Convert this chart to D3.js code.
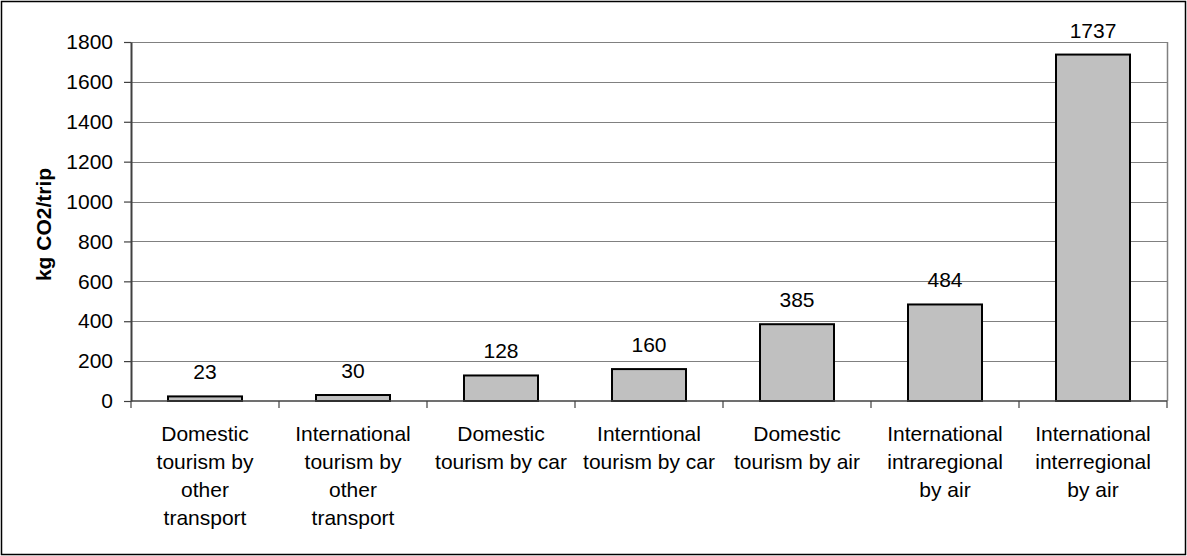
<!DOCTYPE html>
<html>
<head>
    <meta charset="utf-8">
    <title>kg CO2 per trip</title>
    <script src="https://cdnjs.cloudflare.com/ajax/libs/d3/7.8.5/d3.min.js"></script>
    <style>
        html, body {
            margin: 0;
            padding: 0;
            background: #ffffff;
        }
        #chart text {
            font-family: 'Liberation Sans', Arial, sans-serif;
            fill: #000;
        }
    </style>
</head>
<body>
    <div id="chart"></div>
    <script>
        const categories = [
            'Domestic\ntourism by\nother\ntransport',
            'International\ntourism by\nother\ntransport',
            'Domestic\ntourism by car',
            'Interntional\ntourism by car',
            'Domestic\ntourism by air',
            'International\nintraregional\nby air',
            'International\ninterregional\nby air'
        ];
        const values = [23, 30, 128, 160, 385, 484, 1737];
        const yTicks = [0, 200, 400, 600, 800, 1000, 1200, 1400, 1600, 1800];
        const yTitle = 'kg CO2/trip';

        const width = 1187, height = 556;
        const margin = { top: 42, right: 20, bottom: 155, left: 131 };
        const plotW = 1167 - margin.left;
        const plotH = 401 - margin.top;
        const fontSize = '21px';

        const svg = d3.select('#chart')
            .append('svg')
            .attr('width', width)
            .attr('height', height);

        // outer frame
        svg.append('rect')
            .attr('x', 1.5).attr('y', 1.5)
            .attr('width', width - 3).attr('height', height - 3)
            .attr('fill', 'none')
            .attr('stroke', '#000')
            .attr('stroke-width', 1.5);

        const g = svg.append('g')
            .attr('transform', `translate(${margin.left},${margin.top})`);

        const x = d3.scaleBand()
            .domain(categories)
            .range([0, plotW])
            .paddingInner(0.5)
            .paddingOuter(0.25);

        const y = d3.scaleLinear()
            .domain([0, 1800])
            .range([plotH, 0]);

        // gridlines
        g.append('g')
            .selectAll('line')
            .data(yTicks.filter(d => d > 0))
            .enter()
            .append('line')
            .attr('x1', 0).attr('x2', plotW)
            .attr('y1', d => Math.round(y(d)) + 0.5)
            .attr('y2', d => Math.round(y(d)) + 0.5)
            .attr('stroke', '#808080')
            .attr('stroke-width', 1);

        // right border of plot area
        g.append('line')
            .attr('x1', plotW + 0.5).attr('x2', plotW + 0.5)
            .attr('y1', 0).attr('y2', plotH)
            .attr('stroke', '#808080')
            .attr('stroke-width', 1.5);

        // bars
        g.selectAll('.bar')
            .data(values)
            .enter()
            .append('rect')
            .attr('class', 'bar')
            .attr('x', (d, i) => x(categories[i]))
            .attr('y', d => y(d))
            .attr('width', x.bandwidth())
            .attr('height', d => plotH - y(d))
            .attr('fill', '#c0c0c0')
            .attr('stroke', '#000')
            .attr('stroke-width', 2);

        // value labels
        g.selectAll('.val')
            .data(values)
            .enter()
            .append('text')
            .attr('class', 'val')
            .attr('x', (d, i) => x(categories[i]) + x.bandwidth() / 2)
            .attr('y', d => y(d) - 17)
            .attr('text-anchor', 'middle')
            .style('font-size', fontSize)
            .text(d => d);

        // y axis
        const yAxis = d3.axisLeft(y)
            .tickValues(yTicks)
            .tickFormat(d3.format('d'))
            .tickSize(7)
            .tickPadding(11)
            .tickSizeOuter(0);

        const yg = g.append('g').call(yAxis);
        yg.select('.domain').attr('stroke', '#404040').attr('stroke-width', 2);
        yg.selectAll('.tick line').attr('stroke', '#404040').attr('stroke-width', 1.2);
        yg.selectAll('.tick text').style('font-size', fontSize);

        // x axis: line, boundary ticks and wrapped labels
        const xg = g.append('g').attr('transform', `translate(0,${plotH})`);
        xg.append('line')
            .attr('x1', 0).attr('x2', plotW)
            .attr('y1', 0).attr('y2', 0)
            .attr('stroke', '#404040')
            .attr('stroke-width', 1.5);

        const step = x.step();
        xg.selectAll('.xtick')
            .data(d3.range(categories.length + 1))
            .enter()
            .append('line')
            .attr('class', 'xtick')
            .attr('x1', i => i * step).attr('x2', i => i * step)
            .attr('y1', 0).attr('y2', 7)
            .attr('stroke', '#404040')
            .attr('stroke-width', 1.2);

        const labels = xg.selectAll('.xlabel')
            .data(categories)
            .enter()
            .append('text')
            .attr('class', 'xlabel')
            .attr('text-anchor', 'middle')
            .attr('transform', d => `translate(${x(d) + x.bandwidth() / 2},40)`)
            .style('font-size', fontSize);

        labels.selectAll('tspan')
            .data(d => d.split('\n'))
            .enter()
            .append('tspan')
            .attr('x', 0)
            .attr('y', (d, i) => i * 28)
            .text(d => d);

        // y title
        svg.append('text')
            .attr('transform', `translate(51,${margin.top + plotH / 2 + 3}) rotate(-90)`)
            .attr('text-anchor', 'middle')
            .style('font-size', '21px')
            .style('font-weight', 'bold')
            .text(yTitle);
    </script>
</body>
</html>
